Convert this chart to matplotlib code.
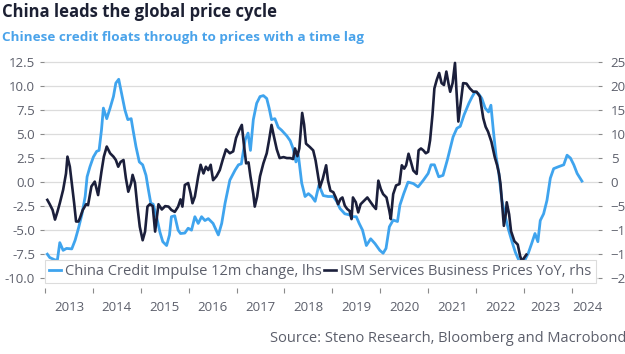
"""
China credit impulse vs ISM services prices
"""
import numpy as np
import matplotlib
matplotlib.use("Agg")
import matplotlib.pyplot as plt

plt.rcParams['font.family'] = ['Open Sans', 'DejaVu Sans']

# China Credit Impulse 12m change (lhs), decimal years
credit_t = [2013.05, 2013.10, 2013.21, 2013.26, 2013.31, 2013.38, 2013.45, 2013.56, 2013.63, 2013.70,
            2013.77, 2013.84, 2013.88, 2013.94, 2014.01, 2014.08, 2014.13, 2014.18, 2014.22, 2014.29,
            2014.36, 2014.43, 2014.48, 2014.54, 2014.60, 2014.67, 2014.73, 2014.80, 2014.84, 2014.90,
            2014.97, 2015.04, 2015.11, 2015.16, 2015.21, 2015.26, 2015.33, 2015.40, 2015.46, 2015.54,
            2015.60, 2015.64, 2015.71, 2015.78, 2015.83, 2015.92, 2015.99, 2016.06, 2016.13, 2016.20,
            2016.27, 2016.34, 2016.41, 2016.51, 2016.62, 2016.69, 2016.76, 2016.86, 2016.97, 2017.04,
            2017.10, 2017.18, 2017.24, 2017.29, 2017.35, 2017.42, 2017.49, 2017.56, 2017.63, 2017.68,
            2017.73, 2017.80, 2017.87, 2017.94, 2018.05, 2018.12, 2018.18, 2018.24, 2018.29, 2018.36,
            2018.43, 2018.50, 2018.57, 2018.64, 2018.72, 2018.81, 2018.91, 2019.02, 2019.09, 2019.16,
            2019.26, 2019.35, 2019.43, 2019.50, 2019.56, 2019.63, 2019.71, 2019.80, 2019.89, 2019.99,
            2020.06, 2020.12, 2020.19, 2020.27, 2020.36, 2020.41, 2020.49, 2020.58, 2020.69, 2020.79,
            2020.90, 2021.00, 2021.06, 2021.13, 2021.22, 2021.31, 2021.40, 2021.47, 2021.52, 2021.60,
            2021.67, 2021.75, 2021.85, 2021.92, 2021.98, 2022.05, 2022.12, 2022.19, 2022.26, 2022.31,
            2022.36, 2022.42, 2022.47, 2022.54, 2022.61, 2022.68, 2022.75, 2022.82, 2022.89, 2022.96,
            2023.02, 2023.09, 2023.16, 2023.23, 2023.29, 2023.34, 2023.41, 2023.48, 2023.55, 2023.62,
            2023.72, 2023.83, 2023.90, 2023.97, 2024.04, 2024.11, 2024.21]
credit_v = [-7.5, -7.85, -8.1, -8.1, -6.3, -7.1, -6.9, -6.95, -6.05, -4.8,
            -3.4, -1.5, 0.55, 1.6, 2.6, 3.2, 3.3, 5.4, 7.7, 6.6,
            7.7, 8.9, 10.3, 10.7, 9.2, 7.5, 6.5, 6.6, 5.4, 3.7,
            2.1, 1.8, 0.7, -0.8, -2.2, -2.3, -3.6, -5.2, -6.2, -6.6,
            -5.5, -3.6, -3.5, -5.0, -5.35, -5.3, -4.8, -5.0, -3.6, -4.3,
            -3.6, -4.0, -3.8, -4.3, -5.5, -4.3, -2.2, 0.2, 1.25, 1.8,
            1.9, 4.4, 5.1, 3.3, 6.5, 8.2, 8.9, 9.0, 8.7, 7.7,
            6.5, 6.6, 5.7, 5.4, 4.8, 4.3, 3.5, 2.1, 2.8, -0.1,
            -1.5, -1.2, -1.5, -2.0, -0.3, -1.4, -1.5, -1.5, -2.0, -2.75,
            -3.3, -3.4, -3.6, -3.6, -4.3, -5.0, -6.6, -5.9, -6.4, -7.1,
            -7.4, -6.9, -4.65, -3.95, -4.1, -2.4, -1.2, 0.0, -0.15, -0.5,
            0.2, 0.9, 1.8, 1.8, 0.55, 0.7, 2.3, 3.7, 4.7, 5.6,
            5.8, 7.0, 8.2, 8.9, 9.4, 9.2, 8.7, 7.7, 7.3, 8.0,
            5.4, 2.6, 1.1, -1.9, -3.6, -5.0, -6.2, -7.3, -8.1, -8.5,
            -8.1, -7.4, -6.4, -5.35, -6.2, -4.0, -3.3, -1.9, 0.4, 1.4,
            1.6, 1.8, 2.8, 2.5, 1.8, 0.9, 0.1]

# ISM Services Business Prices YoY (rhs)
ism_t = [2013.05, 2013.10, 2013.16, 2013.21, 2013.26, 2013.31, 2013.38, 2013.44, 2013.47, 2013.52,
         2013.56, 2013.61, 2013.65, 2013.70, 2013.73, 2013.79, 2013.86, 2013.90, 2013.97, 2014.04,
         2014.11, 2014.18, 2014.23, 2014.29, 2014.36, 2014.43, 2014.48, 2014.53, 2014.58, 2014.64,
         2014.69, 2014.74, 2014.80, 2014.83, 2014.88, 2014.93, 2014.98, 2015.04, 2015.09, 2015.14,
         2015.19, 2015.25, 2015.30, 2015.33, 2015.37, 2015.44, 2015.51, 2015.58, 2015.64, 2015.71,
         2015.78, 2015.83, 2015.87, 2015.92, 2015.99, 2016.04, 2016.08, 2016.13, 2016.20, 2016.25,
         2016.31, 2016.36, 2016.41, 2016.46, 2016.51, 2016.58, 2016.65, 2016.71, 2016.78, 2016.86,
         2016.93, 2016.99, 2017.06, 2017.11, 2017.15, 2017.20, 2017.25, 2017.29, 2017.35, 2017.38,
         2017.43, 2017.49, 2017.56, 2017.63, 2017.68, 2017.73, 2017.78, 2017.84, 2017.90, 2017.98,
         2018.05, 2018.12, 2018.18, 2018.22, 2018.27, 2018.31, 2018.37, 2018.41, 2018.45, 2018.53,
         2018.60, 2018.65, 2018.70, 2018.74, 2018.80, 2018.87, 2018.91, 2018.96, 2019.02, 2019.07,
         2019.12, 2019.17, 2019.21, 2019.26, 2019.31, 2019.36, 2019.40, 2019.43, 2019.49, 2019.54,
         2019.59, 2019.66, 2019.73, 2019.80, 2019.85, 2019.91, 2019.96, 2020.01, 2020.06, 2020.13,
         2020.19, 2020.22, 2020.27, 2020.33, 2020.40, 2020.45, 2020.50, 2020.54, 2020.59, 2020.64,
         2020.69, 2020.76, 2020.80, 2020.85, 2020.90, 2020.95, 2021.00, 2021.04, 2021.09, 2021.13,
         2021.18, 2021.23, 2021.28, 2021.33, 2021.38, 2021.43, 2021.46, 2021.51, 2021.56, 2021.59,
         2021.63, 2021.67, 2021.73, 2021.80, 2021.87, 2021.94, 2022.01, 2022.08, 2022.15, 2022.20,
         2022.25, 2022.32, 2022.39, 2022.44, 2022.48, 2022.51, 2022.55, 2022.58, 2022.62, 2022.64,
         2022.69, 2022.73, 2022.80, 2022.87, 2022.92, 2022.96, 2023.00, 2023.05]
ism_v = [-3.7, -4.6, -5.8, -7.8, -6.2, -4.4, -1.6, 1.8, 5.3, 3.2,
         -0.2, -4.4, -8.2, -8.2, -7.5, -5.8, -4.6, -4.8, -0.9, 0.1,
         -2.7, 2.2, 5.3, 7.4, 6.0, 5.3, 4.6, 3.2, 4.2, 4.6,
         0.8, -2.0, -0.2, 1.5, -0.2, -5.1, -9.3, -12.1, -10.3, -5.1,
         -4.6, -5.0, -10.3, -7.9, -4.6, -5.7, -5.0, -5.1, -5.8, -6.2,
         -5.1, -3.6, -5.1, -0.6, -0.2, -2.3, -4.4, -3.0, 1.2, 3.6,
         1.8, 3.2, 2.5, 3.6, 0.4, 1.2, 2.5, 4.6, 6.8, 6.0,
         6.4, 9.2, 10.9, 11.9, 8.1, 3.9, 4.1, 1.2, -2.5, -5.1,
         -3.0, 1.2, 3.9, 6.0, 8.8, 11.9, 9.5, 6.8, 5.0, 5.2,
         5.0, 5.0, 4.8, 7.0, 5.4, 7.0, 14.4, 12.0, 8.0, 7.3,
         6.6, 4.5, 1.4, -1.1, 0.7, 3.5, 0.3, -1.8, -2.1, -3.2,
         -4.6, -3.5, -3.2, -4.9, -5.6, -6.0, -7.7, -3.2, -4.2, -6.3,
         -4.6, -3.9, -3.2, -4.2, -4.9, -5.6, 0.3, -1.4, -2.5, -3.2,
         -6.0, -7.7, -2.5, -0.7, -0.4, 3.5, 2.8, 3.5, 5.9, 4.2,
         2.4, 1.7, 6.6, 7.0, 6.6, 6.0, 6.3, 8.7, 14.0, 19.5,
         21.3, 22.7, 20.6, 20.2, 23.0, 20.2, 18.8, 20.6, 24.8, 19.2,
         12.6, 15.7, 20.6, 20.5, 19.5, 18.8, 18.8, 17.8, 13.3, 11.5,
         10.5, 8.4, 5.2, 3.5, 1.7, -0.4, -5.3, -9.1, -6.7, -4.2,
         -6.7, -10.2, -12.3, -13.0, -15.4, -16.5, -15.8, -15.1]

years = list(range(2013, 2025))
year_labels = [str(y) for y in years]
label_pos = [y + 0.5 for y in years[:-2]] + [2023.44, 2024.33]

blue = '#3fa4ee'
navy = '#1b1f3b'
grey_txt = '#5c5f6b'

fig = plt.figure(figsize=(6.25, 3.54), dpi=100)
ax = fig.add_axes([0.0696, 0.1856, 0.8864, 0.6475])
ax2 = ax.twinx()

l1, = ax.plot(credit_t, credit_v, color=blue, lw=2.0, solid_joinstyle='round')
l2, = ax2.plot(ism_t, ism_v, color=navy, lw=1.9, solid_joinstyle='round')

ax.set_xlim(2012.97, 2024.535)
ax.set_ylim(-11.05, 12.8)
ax2.set_ylim(-22.1, 25.6)
ax.set_yticks(np.arange(-10, 12.6, 2.5))
ax.set_yticklabels([f'{v:.1f}' for v in np.arange(-10, 12.6, 2.5)])
ax2.set_yticks(np.arange(-20, 26, 5))

ax.yaxis.grid(True, color='#dcdcdc', lw=0.9)
ax.set_axisbelow(True)
for a in (ax, ax2):
    for s in a.spines.values():
        s.set_visible(False)

ax.set_xticks(years)
ax.set_xticklabels([])
ax.set_xticks(label_pos, minor=True)
ax.set_xticklabels(year_labels, minor=True)
ax.tick_params(axis='x', which='major', length=3.5, width=0.8, color='#8a8a8a')
ax.tick_params(axis='x', which='minor', length=0, pad=9.5, labelsize=9.5, labelcolor=grey_txt)
ax.tick_params(axis='y', length=3, width=0.8, color='#8a8a8a', pad=3, labelsize=9.5, labelcolor=grey_txt)
ax2.tick_params(axis='y', length=3, width=0.8, color='#8a8a8a', pad=6.5, labelsize=9.5, labelcolor=grey_txt)

lg = ax2.legend([l1, l2], ['China Credit Impulse 12m change, lhs', 'ISM Services Business Prices YoY, rhs'],
                ncol=2, mode='expand', loc='lower left', bbox_to_anchor=(0.0027, 0.022, 0.9946, 0.08),
                fontsize=10.5, handlelength=0.8, handletextpad=0.3, columnspacing=0.2,
                borderpad=0.3, borderaxespad=0, fancybox=False, framealpha=1)
lg.get_frame().set_edgecolor('#dcdcdc')
lg.get_frame().set_linewidth(0.8)
for t in lg.get_texts():
    t.set_color(grey_txt)

fig.text(0.004, 0.953, 'China leads the global price cycle', fontsize=12, fontweight='bold',
         color='#1c2033', va='baseline')
fig.text(0.004, 0.885, 'Chinese credit floats through to prices with a time lag', fontsize=9.7,
         fontweight='bold', color='#4aa3ea', va='baseline')
fig.text(1.003, 0.035, 'Source: Steno Research, Bloomberg and Macrobond', fontsize=10.5,
         color=grey_txt, ha='right', va='baseline')

fig.savefig('out.png', dpi=100)
